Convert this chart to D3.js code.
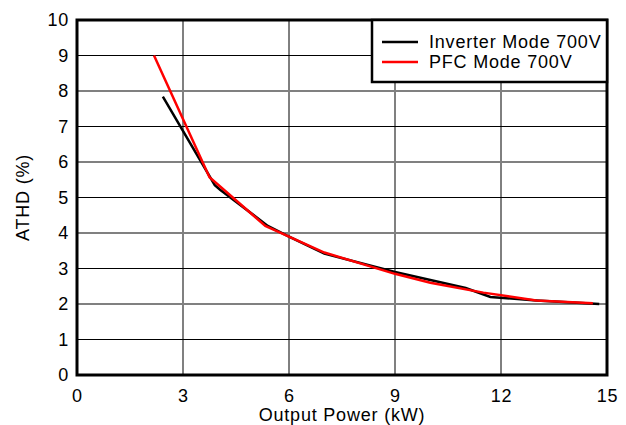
<!DOCTYPE html>
<html>
<head>
  <meta charset="utf-8">
  <script src="https://d3js.org/d3.v7.min.js"></script>
  <style>
    body { margin: 0; background: #fff; }
    text { font-family: "Liberation Sans", Arial, sans-serif; fill: #000; letter-spacing: 0.8px; }
  </style>
</head>
<body>
  <div id="chart"></div>
  <script>
    // data
    var inverterPower = [2.43, 3.9, 4.05, 5.4, 6.0, 7.0, 9.0, 11.0, 11.7, 13.0, 14.78];
    var inverterThd   = [7.84, 5.35, 5.22, 4.2, 3.9, 3.42, 2.9, 2.45, 2.2, 2.1, 2.0];
    var pfcPower = [2.18, 3.75, 5.33, 7.0, 9.0, 10.0, 11.5, 13.0, 14.6];
    var pfcThd   = [9.0, 5.57, 4.2, 3.45, 2.85, 2.6, 2.32, 2.1, 2.02];
    var xTicks = [0, 3, 6, 9, 12, 15];
    var yTicks = [0, 1, 2, 3, 4, 5, 6, 7, 8, 9, 10];
    var seriesNames = ["Inverter Mode 700V", "PFC Mode 700V"];
    var seriesColors = ["#000000", "#ff0000"];

    var W = 626, H = 425;
    var margin = {top: 20, right: 19, bottom: 50, left: 77},
        width = W - margin.left - margin.right,
        height = H - margin.top - margin.bottom;

    var svg = d3.select("#chart").append("svg")
      .attr("width", W)
      .attr("height", H);

    var g = svg.append("g")
      .attr("transform", "translate(" + margin.left + "," + margin.top + ")");

    var x = d3.scaleLinear().domain([0, 15]).range([0, width]);
    var y = d3.scaleLinear().domain([0, 10]).range([height, 0]);

    // grid: gray and black lines alternate
    g.selectAll(".vgrid")
      .data(xTicks.slice(1, -1))
      .enter().append("line")
        .attr("x1", function(d) { return x(d); })
        .attr("x2", function(d) { return x(d); })
        .attr("y1", 0).attr("y2", height)
        .attr("stroke", function(d, i) { return i % 2 == 0 ? "#808080" : "#000"; })
        .attr("stroke-width", function(d, i) { return i % 2 == 0 ? 2 : 1; });

    g.selectAll(".hgrid")
      .data(yTicks.slice(1, -1))
      .enter().append("line")
        .attr("x1", 0).attr("x2", width)
        .attr("y1", function(d) { return y(d); })
        .attr("y2", function(d) { return y(d); })
        .attr("stroke", function(d) { return d % 2 == 0 ? "#808080" : "#000"; })
        .attr("stroke-width", function(d) { return d % 2 == 0 ? 2 : 1; });

    // axes (labels only, frame drawn separately)
    var xAxis = g.append("g")
      .attr("transform", "translate(0," + height + ")")
      .call(d3.axisBottom(x).tickValues(xTicks).tickSize(0).tickPadding(14));
    var yAxis = g.append("g")
      .call(d3.axisLeft(y).tickValues(yTicks).tickSize(0).tickPadding(8));
    [xAxis, yAxis].forEach(function(a) {
      a.select(".domain").remove();
      a.selectAll("text").style("font-size", "18px").style("font-family", "Liberation Sans, Arial, sans-serif");
    });

    // lines
    var line = d3.line()
      .x(function(d) { return x(d[0]); })
      .y(function(d) { return y(d[1]); });

    var series = [
      d3.zip(inverterPower, inverterThd),
      d3.zip(pfcPower, pfcThd)
    ];

    series.forEach(function(s, i) {
      g.append("path")
        .datum(s)
        .attr("fill", "none")
        .attr("stroke", seriesColors[i])
        .attr("stroke-width", 2.5)
        .attr("d", line);
    });

    // frame
    g.append("rect")
      .attr("width", width).attr("height", height)
      .attr("fill", "none")
      .attr("stroke", "#000")
      .attr("stroke-width", 3);

    // legend
    var lg = g.append("g").attr("transform", "translate(" + (width - 235) + ",0)");
    lg.append("rect")
      .attr("width", 235).attr("height", 62)
      .attr("fill", "#fff")
      .attr("stroke", "#000")
      .attr("stroke-width", 2.5);
    seriesNames.forEach(function(name, i) {
      lg.append("line")
        .attr("x1", 10).attr("x2", 46)
        .attr("y1", 22 + i * 20).attr("y2", 22 + i * 20)
        .attr("stroke", seriesColors[i])
        .attr("stroke-width", 2.5);
      lg.append("text")
        .attr("x", 57).attr("y", 28 + i * 20)
        .style("font-size", "18px")
        .text(name);
    });

    // axis titles
    svg.append("text")
      .attr("x", margin.left + width / 2)
      .attr("y", 421)
      .style("text-anchor", "middle")
      .style("font-size", "18px")
      .text("Output Power (kW)");

    svg.append("text")
      .attr("transform", "translate(29," + (margin.top + height / 2) + ") rotate(-90)")
      .style("text-anchor", "middle")
      .style("font-size", "18px")
      .text("ATHD (%)");
  </script>
</body>
</html>
